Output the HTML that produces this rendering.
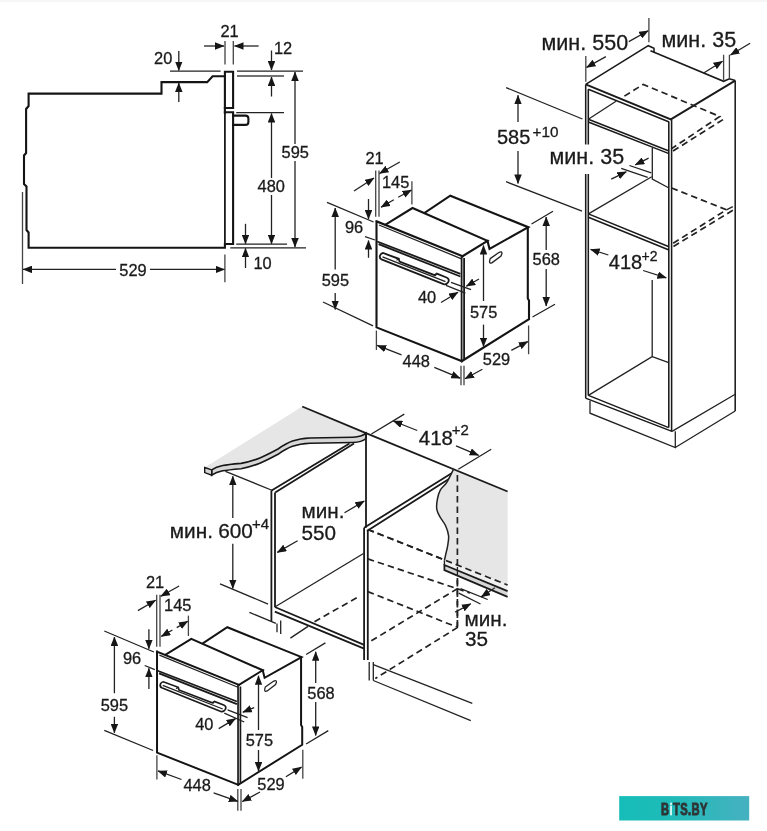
<!DOCTYPE html>
<html><head><meta charset="utf-8">
<style>
html,body{margin:0;padding:0;background:#fff;}
body{width:767px;height:831px;overflow:hidden;position:relative;}
svg{display:block;position:absolute;left:0;top:0;will-change:transform;}
text{font-family:"Liberation Sans",sans-serif;fill:#1a1a1a;stroke:#1a1a1a;stroke-width:0.3;}
.k{stroke:#141414;stroke-width:2.1;fill:none;stroke-linejoin:miter;stroke-linecap:square;}
.m{stroke:#1a1a1a;stroke-width:1.8;fill:none;}
.t{stroke:#222;stroke-width:1.3;fill:none;}
.g{stroke:#444;stroke-width:1.3;fill:none;}
.d{stroke:#222;stroke-width:1.7;fill:none;stroke-dasharray:6.5 4;}
.c{text-anchor:middle;}
</style></head><body>
<svg width="767" height="831" viewBox="0 0 767 831">
<defs>
<marker id="ar" markerUnits="userSpaceOnUse" markerWidth="9.5" markerHeight="7.5" refX="9" refY="3.75" orient="auto-start-reverse" viewBox="0 0 9.5 7.5"><path d="M0,0 L9.5,3.75 L0,7.5 z" fill="#161616"/></marker>
</defs>
<rect x="0" y="0" width="767" height="2" fill="#f6f6f6"/>

<!-- ===== SIDE VIEW (top-left) ===== -->
<g id="side">
<path class="k" d="M224.9,76.2 H212.6 L207.2,82.1 H161.5 V93.6 H28.6 V106 L26.1,109 V153 L24,155.5 V184 L26.5,186.5 V230 L28.6,232.5 V247.8 H224.9 V244 H233.1 V112.2 H224.9"/>
<path class="k" d="M224.9,71.8 H233.1 V108 H224.9 Z"/>
<path class="k" d="M224.9,108 V113"/>
<path class="m" d="M224.9,113 V244"/>
<path class="k" d="M233.1,115.6 H245.5 Q248.4,115.6 248.4,118.5 V122 Q248.4,124.9 245.5,124.9 H233.1"/>
<!-- dims -->
<text x="229.5" y="36.6" font-size="16.4" class="c">21</text>
<path class="g" d="M225,41 V64.6 M233.3,41 V64.6"/>
<path class="t" d="M204,46 H224" marker-end="url(#ar)"/>
<path class="t" d="M258.6,46 H234.5" marker-end="url(#ar)"/>
<text x="163.2" y="64" font-size="16.4" class="c">20</text>
<path class="t" d="M178.8,51 V70.5" marker-end="url(#ar)"/>
<path class="t" d="M170,71.2 H220.6"/>
<path class="t" d="M178.8,102 V83" marker-end="url(#ar)"/>
<text x="283" y="54" font-size="16.4" class="c">12</text>
<path class="t" d="M271.5,50.5 V70" marker-end="url(#ar)"/>
<path class="t" d="M237,71.2 H303"/>
<path class="g" d="M237,76 H284"/>
<path class="t" d="M271.5,96.5 V77" marker-end="url(#ar)"/>
<path class="t" d="M236.2,112.6 H284"/>
<path class="t" d="M271.5,178 V113.5" marker-end="url(#ar)"/>
<path class="t" d="M271.5,195 V243.8" marker-end="url(#ar)"/>
<text x="271.2" y="192" font-size="16.4" class="c">480</text>
<path class="t" d="M295,144 V72" marker-end="url(#ar)"/>
<path class="t" d="M295,161 V247" marker-end="url(#ar)"/>
<text x="295.2" y="157.7" font-size="16.4" class="c">595</text>
<path class="t" d="M236.2,244.2 H287 M230.3,247.8 H306"/>
<path class="t" d="M245.5,223.8 V243.8" marker-end="url(#ar)"/>
<path class="t" d="M245.5,268 V248.3" marker-end="url(#ar)"/>
<text x="262.5" y="268.6" font-size="16.4" class="c">10</text>
<path class="g" d="M22.5,192 V284 M224.9,254.5 V282.3"/>
<path class="t" d="M116,269.4 H23" marker-end="url(#ar)"/>
<path class="t" d="M150,269.4 H224.5" marker-end="url(#ar)"/>
<text x="133" y="275.7" font-size="16.4" class="c">529</text>
</g>

<!-- ===== OVEN MID ===== -->
<g id="ovenbody">
<!-- back box -->
<path class="k" d="M425,212.5 L450.3,195.7 L528.3,227.2 L489.5,248.8 L487.5,240.9"/>
<path class="k" d="M527.8,227.5 V298.5 L529,300.5 V319.2 L461.7,361.2"/>
<!-- front housing top -->
<path class="k" d="M385.6,224.6 L412.5,208 L487.5,240.9 L462.6,256.2"/>
<!-- front face -->
<path class="k" d="M376.5,221.3 L462.6,256.2 M376.5,221.3 V327.4 L461.7,361.2"/>
<path class="t" d="M379,225 L461.5,258.8"/>
<path class="m" d="M461.6,256.5 V361 M464.1,258 V359.5"/>
<path class="m" d="M377.2,241.5 L460.4,273.8 M378.6,244.2 L460.4,276.5"/>
<!-- side handle slot -->
<path class="t" d="M490.2,258.6 L499.2,252.3 Q502.2,250.8 501.9,253.6 L501,256 L492.2,262.6 Q489.2,264 489.6,261 Z"/>
<!-- door handle -->
<path class="m" d="M383,253 Q381,253.3 380,255.5 Q379.2,258.3 381.5,259.3 L443.5,284.2 Q446.5,285 448.3,282 Q449.8,279 446.5,277.5 L436.8,273.6 L434.5,275.2 L399.5,261.6 L398.8,258.8 Z"/>
<path class="t" d="M382.5,256.8 L445.5,281.6 M398.8,258.8 L396.5,260.2 M436.8,273.6 L435,276"/>
</g>
<g id="ovendims">
<text x="374.6" y="164" font-size="16.4" class="c">21</text>
<path class="g" d="M375.7,170.5 V216.7 M379,170.5 V216.7"/>
<path class="t" d="M354,191 L374,178" marker-end="url(#ar)"/>
<path class="t" d="M399.8,162 L379.5,173.5" marker-end="url(#ar)"/>
<text x="395.6" y="187.8" font-size="16.4" class="c">145</text>
<path class="g" d="M411.9,181.3 V204.4"/>
<path class="t" d="M393.8,199.8 L381,207.3" marker-end="url(#ar)"/><path class="t" d="M398.2,197.3 L411.5,190" marker-end="url(#ar)"/>
<path class="t" d="M327,202.4 L373.6,222"/>
<path class="t" d="M335.2,269.5 V208" marker-end="url(#ar)"/>
<path class="t" d="M335.2,293 V309.5" marker-end="url(#ar)"/>
<text x="335.4" y="286.2" font-size="16.4" class="c">595</text>
<path class="t" d="M323,302 L373,325.8"/>
<text x="354" y="233" font-size="16.4" class="c">96</text>
<path class="t" d="M368.5,199 V219" marker-end="url(#ar)"/>
<path class="t" d="M365,236.6 L375,240"/>
<path class="t" d="M368.5,257.8 V240.5" marker-end="url(#ar)"/>
<path class="t" d="M451,282.4 L471,289.6 M446,285.3 L465.4,293.2"/>
<path class="t" d="M441,302.5 L458,292.2" marker-end="url(#ar)"/>
<path class="t" d="M479,279 L466.3,286.3" marker-end="url(#ar)"/>
<text x="427" y="302.5" font-size="16.4" class="c">40</text>
<path class="t" d="M483.5,301 V245.5" marker-end="url(#ar)"/>
<path class="t" d="M483.5,324.6 V346.5" marker-end="url(#ar)"/>
<text x="483.6" y="318.3" font-size="16.4" class="c">575</text>
<path class="t" d="M546.2,250 V217" marker-end="url(#ar)"/>
<path class="t" d="M546.2,269 V306" marker-end="url(#ar)"/>
<text x="546.3" y="265" font-size="16.4" class="c">568</text>
<path class="t" d="M531.5,224 L553,211.3 M532.5,317 L555,304.3"/>
<path class="g" d="M376.4,330.5 V350 M461,365.7 V385.3 M464,365.7 V385.3 M528.6,325.4 V354.3"/>
<path class="t" d="M401.5,354.8 L377.2,345.4" marker-end="url(#ar)"/>
<path class="t" d="M434.3,367.3 L460.2,378.2" marker-end="url(#ar)"/>
<text x="416.3" y="367.3" font-size="16.4" class="c">448</text>
<path class="t" d="M511.3,350.4 L527.8,341.6" marker-end="url(#ar)"/>
<path class="t" d="M482.4,369.2 L465,378.7" marker-end="url(#ar)"/>
<text x="496.5" y="365.3" font-size="16.4" class="c">529</text>
</g>
<!-- ===== OVEN LOW ===== -->
<g transform="matrix(0.952,0,0,0.952,-201.4,440.9)">
<!-- back box -->
<path class="k" d="M425,212.5 L450.3,195.7 L528.3,227.2 L489.5,248.8 L487.5,240.9"/>
<path class="k" d="M527.8,227.5 V298.5 L529,300.5 V319.2 L461.7,361.2"/>
<!-- front housing top -->
<path class="k" d="M385.6,224.6 L412.5,208 L487.5,240.9 L462.6,256.2"/>
<!-- front face -->
<path class="k" d="M376.5,221.3 L462.6,256.2 M376.5,221.3 V327.4 L461.7,361.2"/>
<path class="t" d="M379,225 L461.5,258.8"/>
<path class="m" d="M461.6,256.5 V361 M464.1,258 V359.5"/>
<path class="m" d="M377.2,241.5 L460.4,273.8 M378.6,244.2 L460.4,276.5"/>
<!-- side handle slot -->
<path class="t" d="M490.2,258.6 L499.2,252.3 Q502.2,250.8 501.9,253.6 L501,256 L492.2,262.6 Q489.2,264 489.6,261 Z"/>
<!-- door handle -->
<path class="m" d="M383,253 Q381,253.3 380,255.5 Q379.2,258.3 381.5,259.3 L443.5,284.2 Q446.5,285 448.3,282 Q449.8,279 446.5,277.5 L436.8,273.6 L434.5,275.2 L399.5,261.6 L398.8,258.8 Z"/>
<path class="t" d="M382.5,256.8 L445.5,281.6 M398.8,258.8 L396.5,260.2 M436.8,273.6 L435,276"/>
</g>
<g id="lowdims">
<text x="155" y="587.5" font-size="16.4" class="c">21</text>
<path class="g" d="M156.7,594.7 V646.7 M160,594.7 V646.7"/>
<path class="t" d="M137.9,610.6 L155.6,600.3" marker-end="url(#ar)"/>
<path class="t" d="M179.1,586 L160.8,596.3" marker-end="url(#ar)"/>
<text x="177.7" y="611.3" font-size="16.4" class="c">145</text>
<path class="g" d="M188.4,615.6 V636"/>
<path class="t" d="M172.4,630 L161.3,636.4" marker-end="url(#ar)"/><path class="t" d="M176.7,627.6 L187.8,621.2" marker-end="url(#ar)"/>
<path class="t" d="M104.3,631 L153.9,652 M104.3,730.3 L153.1,750.5"/>
<path class="t" d="M114.4,693.2 V637" marker-end="url(#ar)"/>
<path class="t" d="M114.4,716.8 V732.8" marker-end="url(#ar)"/>
<text x="114.4" y="710.9" font-size="16.4" class="c">595</text>
<text x="132" y="663.8" font-size="16.4" class="c">96</text>
<path class="t" d="M148.9,629.3 V648.8" marker-end="url(#ar)"/>
<path class="t" d="M144.7,665.5 L154.8,669.7"/>
<path class="t" d="M148.9,689 V668.3" marker-end="url(#ar)"/>
<path class="t" d="M227.6,709.8 L247.6,717.6 M224.3,713.1 L244.2,722"/>
<path class="t" d="M218.7,728.6 L235.6,718.6" marker-end="url(#ar)"/>
<path class="t" d="M254.2,707.6 L242.8,712.2" marker-end="url(#ar)"/>
<text x="204.3" y="729.8" font-size="16.4" class="c">40</text>
<path class="t" d="M258.5,730 V675.8" marker-end="url(#ar)"/>
<path class="t" d="M258.5,750 V771" marker-end="url(#ar)"/>
<text x="259.4" y="746" font-size="16.4" class="c">575</text>
<path class="t" d="M315.7,683 V651.8" marker-end="url(#ar)"/>
<path class="t" d="M315.7,702 V735.4" marker-end="url(#ar)"/>
<text x="321" y="698.8" font-size="16.4" class="c">568</text>
<path class="t" d="M306.1,654.5 L325.4,642.9 M306.1,744 L328.3,730.6"/>
<path class="g" d="M156.9,755.2 V779.5 M237.8,788.9 V810.8 M241,788.9 V810.8 M302.8,749.8 V778.7"/>
<path class="t" d="M181.5,779.5 L158,770.9" marker-end="url(#ar)"/>
<path class="t" d="M213.6,792.8 L237.8,801.4" marker-end="url(#ar)"/>
<text x="197.1" y="791.2" font-size="16.4" class="c">448</text>
<path class="t" d="M285.9,776.8 L301.5,767.1" marker-end="url(#ar)"/>
<path class="t" d="M260,792 L242.3,801.5" marker-end="url(#ar)"/>
<text x="271" y="790.3" font-size="16.4" class="c">529</text>
</g>


<!-- ===== CABINET ===== -->
<g id="cab">
<!-- top face -->
<path style="stroke-width:1.55" class="m" d="M585.7,84.4 L648.3,45.7 L654,48.3 V52.5"/>
<path style="stroke-width:1.55" class="m" d="M650.5,50.8 L723.6,81.3 L729.4,78.8 L735.2,80.6"/>
<path style="stroke-width:1.9" class="m" d="M735.2,80.6 L670.8,119.4 L585.7,84.4"/>
<path style="stroke-width:1.55" class="m" d="M588.3,89.2 L669.2,122"/>
<!-- verticals -->
<path style="stroke-width:1.55" class="m" d="M585.7,84.4 V144.4 M588.3,89.2 V144.4 M585.7,174 V398.1 M588.3,174 V395.4"/>
<path style="stroke-width:1.55" class="m" d="M668.8,122 V427.6 M671.6,119.4 V431.4"/>
<path style="stroke-width:1.55" class="m" d="M735.2,80.6 V411"/>
<!-- upper shelf -->
<path style="stroke-width:1.55" class="m" d="M588.3,119.3 L669,151 M588.3,122 L669,153.6"/>
<path class="t" d="M588.3,119.3 L616,101.3"/>
<path class="t" d="M652.3,148 V179 L669,188"/>
<!-- middle shelf -->
<path class="t" d="M588.4,213.9 L651.7,176.8"/>
<path style="stroke-width:1.55" class="m" d="M588.4,213.9 L669,246.8 M588.4,217.3 L669,250"/>
<!-- bottom -->
<path class="t" d="M652.2,280 V356.6 L588.4,395.4 M652.2,356.6 L668.7,362.6"/>
<path style="stroke-width:1.55" class="m" d="M585.5,398.1 L672,431.4 M588.4,395.4 L668.7,427.6"/>
<path class="t" d="M590,401 V413.2 L675.3,447.5 V431.2 M675.3,447.5 L735.2,411 M735.2,394.3 L672,431.4"/>
<!-- hidden dashed -->
<path class="d" d="M624.4,96.1 L643.2,84.4 L719.8,116.5 L671.6,148.6 M723,119.6 L671.6,151.9"/>
<path class="d" d="M671.6,188 L726.5,209.8 L671.6,244.2 M732.8,210.3 L671.6,247.6"/>
<path class="t" d="M732.8,206.7 L726.5,209.8"/>
<!-- dims -->
<text x="541.5" y="49.5" font-size="21.5">мин.</text><text x="592.3" y="49.5" font-size="21.5">550</text>
<path class="g" d="M585.8,56 V81.7 M648.9,17.9 V42.3"/>
<path class="t" d="M605.9,56.6 L586.5,67.4" marker-end="url(#ar)"/>
<path class="t" d="M628.8,41.6 L648.2,30.8" marker-end="url(#ar)"/>
<text x="661.5" y="46.5" font-size="21.5">мин.</text><text x="712.3" y="46.5" font-size="21.5">35</text>
<path class="g" d="M723.6,54.8 V80.4 M729.4,54.8 V79"/>
<path class="t" d="M703.7,73 L722.5,61.2" marker-end="url(#ar)"/>
<path class="t" d="M750.1,43.2 L730.5,55" marker-end="url(#ar)"/>
<path class="t" d="M506.1,87.6 L582.4,119 M506.1,181.7 L582,211.2"/>
<path class="t" d="M518,122 V95.3" marker-end="url(#ar)"/>
<path class="t" d="M518,151 V183.4" marker-end="url(#ar)"/>
<text x="497" y="144.4" font-size="20">585</text>
<text x="532.5" y="136.8" font-size="15.3">+10</text>
<text x="549.5" y="164.3" font-size="21.5">мин.</text><text x="600.2" y="164.3" font-size="21.5">35</text>
<path class="t" d="M629.4,165.5 L651.3,172.8 M621.2,168.3 L647.7,177.4"/>
<path class="t" d="M611.2,179.2 L626.3,171.8" marker-end="url(#ar)"/>
<path class="t" d="M648.6,158.2 L635.3,164.8" marker-end="url(#ar)"/>
<path class="t" d="M608.4,255 L590.6,249.4" marker-end="url(#ar)"/>
<path class="t" d="M643.1,270.5 L666.3,277.9" marker-end="url(#ar)"/>
<text x="608.8" y="268.6" font-size="20">418</text>
<text x="641.5" y="261.4" font-size="14">+2</text>
</g>


<!-- ===== COUNTER ===== -->
<g id="counter">
<!-- countertop -->
<path d="M204.7,467.5 L302.2,406.5 L366,433.2 C364,435 360,437 353,437.2 L310,438 C296,438.5 288,442 278,449 C265,456 255,461 241,463.4 C225,464.8 218,465.5 211.7,469.9 Z" fill="#e6e6e6"/>
<path d="M211.7,469.9 C218,465.5 225,464.8 241,463.4 C255,461 265,456 278,449 C288,442 296,438.5 310,438 L353,437.2 C360,437 364,435 366,433.2 V438.5 C364,440.3 360,442.3 353,442.5 L310,443.3 C296,443.8 288,447.3 278,454.3 C265,461.3 255,466.3 241,468.7 C225,470.1 218,470.8 211.7,475.2 Z" fill="#d6d6d6" stroke="#161616" stroke-width="1.6"/>
<path d="M204.7,467.5 L211.7,469.9 V475.2 L204.7,472.6 Z" fill="#d6d6d6" stroke="#161616" stroke-width="1.4"/>
<path class="m" d="M302.2,406.5 L366,433.2"/>
<!-- left cabinet -->
<path class="t" d="M225.5,471.3 L272.5,490.5"/>
<path class="m" d="M271.6,490.5 L349.5,443.5 M275.2,492.5 L354,443.5"/>
<path class="m" d="M271.4,490.5 V621.7 M275,492.5 V607"/>
<path class="m" d="M366,433.2 V527.8"/>
<path class="t" d="M274.8,607 L363.5,553.5"/>
<path class="m" d="M274.8,607 L364.1,644.9 M274.8,611.7 L364.1,648.6"/>
<path class="t" d="M249.4,612.3 L271.7,621.7 L275.8,623.4 M277,623.4 V632.2 M280.7,620.5 V634"/>
<path class="t" d="M290.4,638.1 L308,626.4"/>
<path class="d" d="M314.5,621.7 L357.5,597.3"/>
<!-- 600 dims -->
<path class="t" d="M232.8,518 V476.2" marker-end="url(#ar)"/>
<path class="t" d="M232.8,543.8 V588.5" marker-end="url(#ar)"/>
<path class="t" d="M220,583.8 L268.1,604.1"/>
<text x="169.8" y="538" font-size="20.8">мин.</text>
<text x="218.2" y="538" font-size="20.8">600</text>
<text x="252" y="529.2" font-size="15">+4</text>
<text x="301.5" y="518" font-size="20.7">мин.</text>
<text x="301.5" y="540" font-size="20.7">550</text>
<path class="t" d="M297.6,540.8 L277.3,552.4" marker-end="url(#ar)"/>
<path class="t" d="M344.5,512.8 L364.3,501" marker-end="url(#ar)"/>
<!-- niche -->
<path class="t" d="M371.4,434 L404.3,414.1 M458.3,469.2 L491.2,449.3"/>
<path class="t" d="M417.2,430.5 L393.3,421" marker-end="url(#ar)"/>
<path class="t" d="M456,445.8 L478.6,455.4" marker-end="url(#ar)"/>
<text x="418.8" y="444.6" font-size="20.5">418</text>
<text x="451.8" y="435.2" font-size="15">+2</text>
<path class="m" d="M364.1,527.8 L452.4,472.8 M367,531 L453.6,476"/>
<path class="m" d="M364.1,527.8 V660.1 M367.8,530 V660.1"/>
<path class="t" d="M369.2,662.1 V680.5 M373.3,662.1 V680.5 M373.3,664.7 L472.3,703.4 M373.3,680.5 L470.8,720.6"/>
<path class="d" d="M367.8,529.5 L507.5,585 M367.8,558.9 L470,593 M367.8,591.6 L457.7,627.4 M457.7,588.5 L368.2,642.7 M457.7,627.4 L375.3,678.5 M457.4,475 V627.4"/>
<!-- grey side panel -->
<path d="M453.6,469.2 L507.6,491.5 V585 L444.4,560.3 C444.6,559.4 445.1,557.4 445.6,555.0 C446.1,552.6 447.1,549.3 447.6,546.1 C448.1,542.9 448.9,539.3 448.6,535.9 C448.3,532.5 447.0,528.8 445.6,525.7 C444.2,522.6 441.9,520.2 440.4,517.5 C438.9,514.8 437.3,512.4 436.8,509.3 C436.3,506.2 436.8,502.3 437.4,499.1 C438.0,495.9 438.9,492.6 440.4,489.9 C441.9,487.2 444.4,486.1 446.6,482.7 C448.8,479.2 452.4,471.4 453.6,469.2 Z" fill="#e6e6e6"/>
<path class="m" d="M366,433.2 L507.6,491.5"/>
<path style="stroke-width:1.5" class="t" d="M453.6,469.2 C452.4,471.4 448.8,479.2 446.6,482.7 C444.4,486.1 441.9,487.2 440.4,489.9 C438.9,492.6 438.0,495.9 437.4,499.1 C436.8,502.3 436.3,506.2 436.8,509.3 C437.3,512.4 438.9,514.8 440.4,517.5 C441.9,520.2 444.2,522.6 445.6,525.7 C447.0,528.8 448.3,532.5 448.6,535.9 C448.9,539.3 448.1,542.9 447.6,546.1 C447.1,549.3 446.1,552.6 445.6,555.0 C445.1,557.4 444.6,559.4 444.4,560.3"/>
<path d="M444.4,560.3 L507.5,584.8 V591.1 L444.4,565 Z" fill="#efefef"/>
<path d="M444.4,565 L507.5,591.1 V596.8 L444.4,570.2 Z" fill="#d6d6d6"/>
<path class="m" d="M507.6,591.1 L444.4,565 V570.2 L507.6,596.8"/>
<path class="t" d="M444.4,560.3 V565"/>
<path class="d" d="M367.8,529.5 L507.5,585 M457.4,475 V565"/>
<path class="t" d="M457.4,567 V576"/>
<path class="d" d="M457.4,578 V627.4"/>
<!-- min 35 -->
<path class="t" d="M460.6,588.7 L487.7,599.5 M458.8,593.2 L480.5,604"/>
<path class="t" d="M494.9,587.8 L481.2,596.9" marker-end="url(#ar)"/>
<path class="t" d="M455.2,612.1 L470.8,603.8" marker-end="url(#ar)"/>
<text x="464.5" y="625.7" font-size="20.7">мин.</text>
<text x="465" y="645.5" font-size="20.7">35</text>
</g>


<!-- watermark -->
<defs><linearGradient id="wmg" x1="0" x2="1" y1="0" y2="0"><stop offset="0" stop-color="#16bdb8"/><stop offset="0.4" stop-color="#1fbbb8"/><stop offset="1" stop-color="#46b1c0"/></linearGradient></defs>
<rect x="619.2" y="796.1" width="130" height="24.4" fill="url(#wmg)"/>
<g transform="translate(661,814.8) scale(0.71,1)"><text x="0" y="0" font-size="15.8" font-weight="bold" style="fill:#2f3436;stroke:#2f3436;stroke-width:0.9;letter-spacing:0.5px">B<tspan style="fill:#eafcfa;stroke:#eafcfa;stroke-width:0.3">i</tspan>TS.BY</text></g>
</svg>
</body></html>
